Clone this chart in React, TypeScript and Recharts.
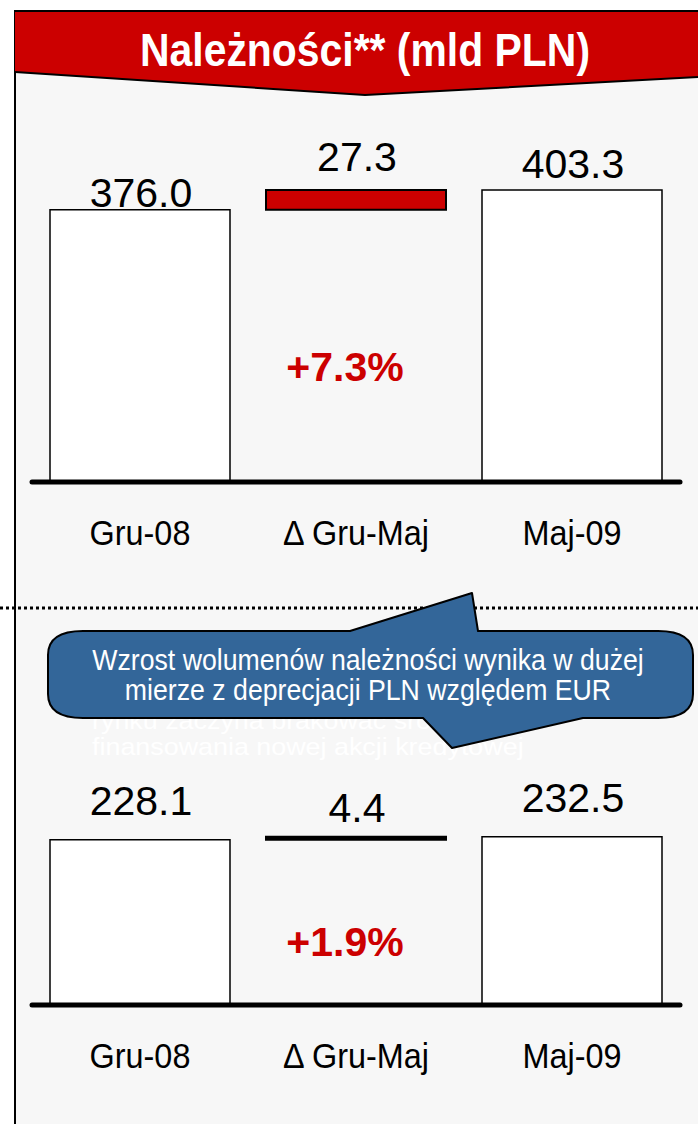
import { BarChart, Bar, XAxis, YAxis, Cell, LabelList } from 'recharts';

const categories = ['Gru-08', '\u0394 Gru-Maj', 'Maj-09'];
const topValues = [376.0, 27.3, 403.3];
const bottomValues = [228.1, 4.4, 232.5];

const title = 'Należności** (mld PLN)';
const calloutLines = ['Wzrost wolumenów należności wynika w dużej', 'mierze z deprecjacji PLN względem EUR'];
const hiddenLines = ['rynku zaczyna brakować środków', 'finansowania nowej akcji kredytowej'];

const RED = '#cc0000';
const BLUE = '#336699';
const NARROW = "'Liberation Sans Narrow', 'Arial Narrow', 'Liberation Sans', Arial, sans-serif";
const SANS = "'Liberation Sans', Arial, sans-serif";

function buildRows(values: number[]) {
  return categories.map((name, i) => ({
    name,
    base: i === 1 ? values[0] : 0,
    value: values[i],
  }));
}

// narrow look: taller glyphs squeezed horizontally
const Tick = ({ x, y, payload }: any) => (
  <text
    transform={`translate(${x},${y + 55}) scale(0.9,1)`}
    textAnchor="middle"
    fontSize={36}
    fontFamily={NARROW}
    fill="#000"
  >
    {payload.value}
  </text>
);

interface PanelProps {
  values: number[];
  top: number;
  gaps: number[];
  deltaFill: string;
}

function Panel({ values, top, gaps, deltaFill }: PanelProps) {
  const rows = buildRows(values);
  return (
    <div style={{ position: 'absolute', left: 0, top, width: 698, height: 460 }}>
      <BarChart width={698} height={460} data={rows} margin={{ top: 10, right: 18, bottom: 8, left: 32 }}>
        <YAxis hide domain={[0, 500]} />
        <XAxis
          dataKey="name"
          height={80}
          tickLine={false}
          axisLine={{ stroke: '#000', strokeWidth: 5, strokeLinecap: 'round' }}
          tick={<Tick />}
          interval={0}
        />
        <Bar dataKey="base" stackId="w" barSize={180} fill="transparent" isAnimationActive={false} />
        <Bar dataKey="value" stackId="w" barSize={180} isAnimationActive={false}>
          {rows.map((r, i) => (
            <Cell
              key={r.name}
              fill={i === 1 ? deltaFill : '#ffffff'}
              stroke="#000"
              strokeWidth={i === 1 ? 2 : 1.5}
            />
          ))}
          <LabelList
            dataKey="value"
            content={(p: any) => {
              const i = p.index ?? 0;
              return (
                <text
                  x={p.x + p.width / 2 + 1}
                  y={p.y - gaps[i]}
                  textAnchor="middle"
                  fontSize={41}
                  fontFamily={SANS}
                  fill="#000"
                >
                  {Number(p.value).toFixed(1)}
                </text>
              );
            }}
          />
        </Bar>
      </BarChart>
    </div>
  );
}

const pct = (v: number[]) => `+${((v[1] / v[0]) * 100).toFixed(1)}%`;

export default function App() {
  return (
    <div style={{ position: 'absolute', left: 0, top: 0, width: 698, height: 1124, background: '#fff', overflow: 'hidden' }}>
      <svg width={698} height={1124} style={{ position: 'absolute', left: 0, top: 0 }}>
        <rect x={15} y={11} width={700} height={1120} fill="#f7f7f7" stroke="#000" strokeWidth={2} />
        <polygon points="15,11 700,11 700,77 365,95 15,72" fill={RED} />
        <polyline points="15,72 365,95 700,77" fill="none" stroke="#000" strokeWidth={2} />
        <line x1={15} y1={11} x2={700} y2={11} stroke="#000" strokeWidth={2} />
        <text
          x={365}
          y={66}
          textAnchor="middle"
          fontSize={47}
          fontWeight="bold"
          fontFamily={NARROW}
          fill="#fff"
          textLength={450}
          lengthAdjust="spacingAndGlyphs"
        >
          {title}
        </text>
        <line x1={0} y1={608} x2={698} y2={608} stroke="#000" strokeWidth={3} strokeDasharray="3 3" />
      </svg>

      <Panel values={topValues} top={110} gaps={[3, 19, 12]} deltaFill={RED} />
      <Panel values={bottomValues} top={633} gaps={[25, 15, 25]} deltaFill="#000" />

      <svg width={698} height={1124} style={{ position: 'absolute', left: 0, top: 0 }}>
        <text x={345} y={381} textAnchor="middle" fontSize={41} fontWeight="bold" fontFamily={SANS} fill={RED}>
          {pct(topValues)}
        </text>
        <text x={345} y={956} textAnchor="middle" fontSize={41} fontWeight="bold" fontFamily={SANS} fill={RED}>
          {pct(bottomValues)}
        </text>
        {hiddenLines.map((t, i) => (
          <text
            key={t}
            transform={`translate(92,${729 + i * 26}) scale(1.12,1)`}
            fontSize={24}
            fontFamily={NARROW}
            fill="#fff"
          >
            {t}
          </text>
        ))}
        <path
          d="M 350 631 L 472 593 L 478 631 L 658 631 Q 693 631 693 655 L 693 694 Q 693 718 658 718 L 583 718 L 452 748 L 423 718 L 83 718 Q 48 718 48 694 L 48 655 Q 48 631 83 631 Z"
          fill={BLUE}
          stroke="#000"
          strokeWidth={2}
          strokeLinejoin="round"
        />
        {calloutLines.map((t, i) => (
          <text
            key={t}
            transform={`translate(368,${670 + i * 30}) scale(0.92,1)`}
            textAnchor="middle"
            fontSize={29}
            fontFamily={NARROW}
            fill="#fff"
          >
            {t}
          </text>
        ))}
      </svg>
    </div>
  );
}
